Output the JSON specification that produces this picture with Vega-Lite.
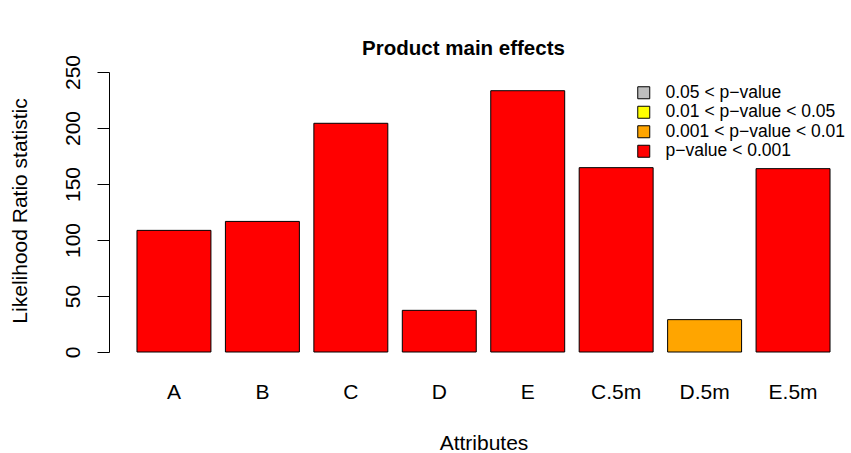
{
  "$schema": "https://vega.github.io/schema/vega-lite/v6.json",
  "width": 727,
  "height": 280,
  "autosize": {"type": "none"},
  "padding": {"left": 120, "top": 72, "right": 4, "bottom": 101},
  "background": "white",
  "config": {
    "view": {"stroke": null},
    "font": "Liberation Sans"
  },
  "title": {
    "text": "Product main effects",
    "font": "Liberation Sans",
    "fontSize": 20.5,
    "fontWeight": "bold",
    "color": "black",
    "anchor": "middle",
    "baseline": "alphabetic",
    "dx": -20,
    "offset": -21
  },
  "data": {
    "values": [
      {"attribute": "A", "lr": 108.6, "significance": "p\u2212value < 0.001"},
      {"attribute": "B", "lr": 116.6, "significance": "p\u2212value < 0.001"},
      {"attribute": "C", "lr": 204.2, "significance": "p\u2212value < 0.001"},
      {"attribute": "D", "lr": 37.2, "significance": "p\u2212value < 0.001"},
      {"attribute": "E", "lr": 233.3, "significance": "p\u2212value < 0.001"},
      {"attribute": "C.5m", "lr": 164.6, "significance": "p\u2212value < 0.001"},
      {"attribute": "D.5m", "lr": 28.9, "significance": "0.001 < p\u2212value < 0.01"},
      {"attribute": "E.5m", "lr": 163.7, "significance": "p\u2212value < 0.001"}
    ]
  },
  "mark": {"type": "bar", "stroke": "black", "strokeWidth": 1},
  "encoding": {
    "x": {
      "field": "attribute",
      "type": "nominal",
      "sort": null,
      "scale": {"paddingInner": 0.1638, "paddingOuter": 0.192},
      "axis": {
        "domain": false,
        "ticks": false,
        "tickSize": 0,
        "labelAngle": 0,
        "labelPadding": 46,
        "labelBaseline": "alphabetic",
        "labelFontSize": 21,
        "labelColor": "black",
        "title": "Attributes",
        "titleFontSize": 21,
        "titleFontWeight": "normal",
        "titleColor": "black",
        "titleBaseline": "alphabetic",
        "titleX": 363.5,
        "titleY": 97
      }
    },
    "y": {
      "field": "lr",
      "type": "quantitative",
      "scale": {"domain": [0, 250], "nice": false},
      "axis": {
        "offset": 11,
        "values": [0, 50, 100, 150, 200, 250],
        "grid": false,
        "domainColor": "black",
        "domainWidth": 1,
        "tickColor": "black",
        "tickWidth": 1,
        "tickSize": 12,
        "labelAngle": -90,
        "labelAlign": "center",
        "labelBaseline": "alphabetic",
        "labelPadding": 17.7,
        "labelFontSize": 21,
        "labelColor": "black",
        "labelFlush": false,
        "labelOverlap": false,
        "title": "Likelihood Ratio statistic",
        "titleFontSize": 21,
        "titleFontWeight": "normal",
        "titleColor": "black",
        "titleAngle": -90,
        "titleAlign": "center",
        "titleBaseline": "alphabetic",
        "titleX": -83,
        "titleY": 138.5
      }
    },
    "color": {
      "field": "significance",
      "type": "nominal",
      "scale": {
        "domain": ["0.05 < p\u2212value", "0.01 < p\u2212value < 0.05", "0.001 < p\u2212value < 0.01", "p\u2212value < 0.001"],
        "range": ["#BEBEBE", "#FFFF00", "#FFA500", "#FF0000"]
      },
      "legend": {
        "orient": "none",
        "legendX": 515,
        "legendY": 12,
        "title": null,
        "padding": 0,
        "symbolType": "square",
        "symbolSize": 144,
        "symbolStrokeColor": "black",
        "symbolStrokeWidth": 1,
        "symbolOpacity": 1,
        "labelFontSize": 17.5,
        "labelColor": "black",
        "labelOffset": 13,
        "labelLimit": 400,
        "rowPadding": 0.5
      }
    }
  }
}
